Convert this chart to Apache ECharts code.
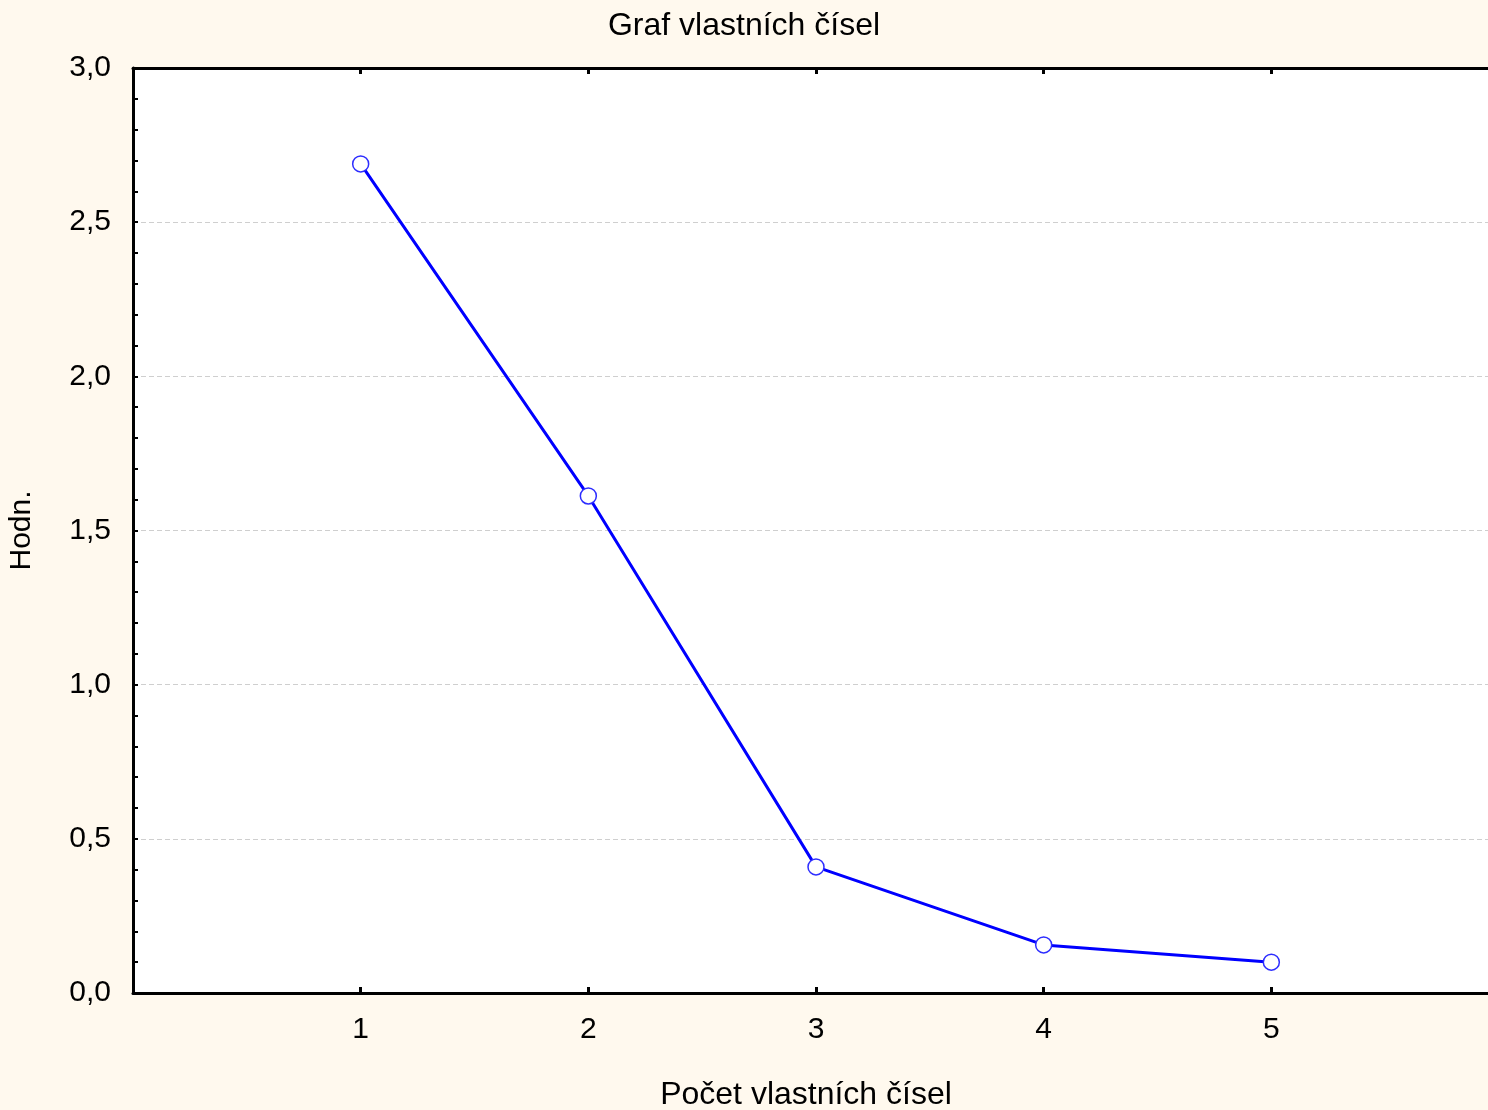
<!DOCTYPE html>
<html>
<head>
<meta charset="utf-8">
<script src="https://cdn.jsdelivr.net/npm/echarts@6/dist/echarts.min.js"></script>
<style>
  html, body { margin: 0; padding: 0; background: #fff9ee; overflow: hidden; }
  #chart { width: 1488px; height: 1110px; }
</style>
</head>
<body>
<div id="chart"></div>
<script>
// data
var pocet = [1, 2, 3, 4, 5];
var hodnoty = [2.689, 1.612, 0.409, 0.156, 0.100];
var xTicks = [1, 2, 3, 4, 5];

var fontFam = "'Liberation Sans', Arial, sans-serif";

var chart = echarts.init(document.getElementById('chart'));

function carka(v) {
    return v.toFixed(1).replace('.', ',');
}

var option = {
    backgroundColor: '#fff9ee',
    animation: false,
    title: {
        text: 'Graf vlastních čísel',
        left: 'center',
        top: 5,
        textStyle: { fontFamily: fontFam, fontSize: 32, fontWeight: 'normal', color: '#000' }
    },
    grid: {
        left: 133, top: 68, width: 1366, height: 925,
        outerBoundsMode: 'none',
        containLabel: false,
        show: true, backgroundColor: '#fff', borderWidth: 0
    },
    xAxis: [
        {
            type: 'value',
            min: 0, max: 6, interval: 1,
            position: 'bottom',
            name: 'Počet vlastních čísel',
            nameLocation: 'middle',
            nameGap: 86,
            nameTextStyle: { fontFamily: fontFam, fontSize: 32, color: '#000', padding: [0, 20, 0, 0] },
            axisLine: { lineStyle: { color: '#000', width: 3 } },
            axisTick: { inside: true, length: 6, lineStyle: { color: '#000', width: 3 } },
            axisLabel: {
                fontFamily: fontFam, fontSize: 30, color: '#000', margin: 22,
                formatter: function (v) { return xTicks.indexOf(v) >= 0 ? String(v) : ''; }
            },
            splitLine: { show: false }
        },
        {
            type: 'value',
            min: 0, max: 6, interval: 1,
            position: 'top',
            axisLine: { lineStyle: { color: '#000', width: 3 } },
            axisTick: { inside: true, length: 6, lineStyle: { color: '#000', width: 3 } },
            axisLabel: { show: false },
            splitLine: { show: false }
        }
    ],
    yAxis: {
        type: 'value',
        min: 0, max: 3, interval: 0.5,
        name: 'Hodn.',
        nameLocation: 'middle',
        nameGap: 96,
        nameTextStyle: { fontFamily: fontFam, fontSize: 30, color: '#000' },
        axisLine: { show: true, lineStyle: { color: '#000', width: 3 } },
        axisTick: { inside: true, length: 5, lineStyle: { color: '#000', width: 2 } },
        minorTick: { show: true, splitNumber: 5, length: 5, lineStyle: { color: '#000', width: 2 } },
        axisLabel: {
            fontFamily: fontFam, fontSize: 30, color: '#000', margin: 22,
            formatter: carka
        },
        splitLine: { show: true, lineStyle: { color: '#cfcfcf', width: 1, type: [5, 3] } }
    },
    series: [{
        type: 'line',
        xAxisIndex: 0,
        data: pocet.map(function (x, i) { return [x, hodnoty[i]]; }),
        lineStyle: { color: '#0000ff', width: 3 },
        symbol: 'circle',
        symbolSize: 16,
        itemStyle: { color: '#fff', borderColor: '#2d2dff', borderWidth: 1.5 },
        z: 5
    }]
};

chart.setOption(option);
</script>
</body>
</html>
